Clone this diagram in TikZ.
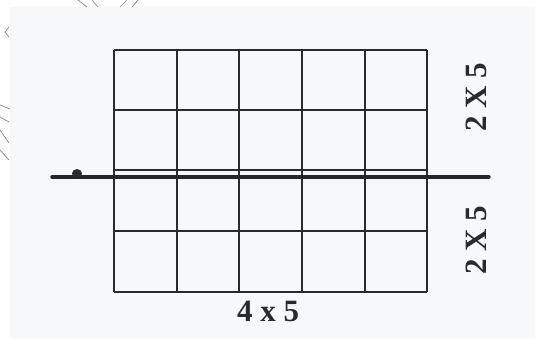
\documentclass[tikz,border=0pt]{standalone}
\usepackage{fontspec}
\setmainfont{Liberation Serif}
\definecolor{bg}{HTML}{F7F8FA}
\definecolor{ink}{HTML}{2A2A2A}
\definecolor{stray}{HTML}{8A8A8A}
\begin{document}
\begin{tikzpicture}[x=1pt,y=-1pt,
  gridline/.style={draw=ink,line width=1.1pt},
  cutline/.style={draw=ink!90!black,line width=3.4pt,line cap=round},
  lbl/.style={font=\bfseries\fontsize{31}{32}\selectfont,text=ink,inner sep=0pt},
  straystroke/.style={draw=stray,line width=0.7pt}]
\useasboundingbox (0,0) rectangle (535,338);
\fill[white] (0,0) rectangle (535,338);
\fill[bg] (10,7) rectangle (535,338);
% stray strokes outside the frame
\draw[straystroke] (78,0) -- (87,7) (92,0) -- (98,7) (120,7) -- (127,0) (132,7) -- (138,0);
\draw[straystroke] (9,27) -- (5,32) -- (9,37);
\draw[straystroke] (0,105) -- (10,109) (0,117) -- (9,122) (0,130) -- (9,143) (0,150) -- (9,160);
% grid
\foreach \xx in {114,177,239,302,365,427} \draw[gridline] (\xx,50) -- (\xx,292);
\foreach \yy in {50,110,170,231,292} \draw[gridline] (114,\yy) -- (427,\yy);
% cut line
\coordinate (cutL) at (52,177);
\coordinate (cutR) at (489,177);
\draw[cutline] (cutL) -- (cutR);
\fill[ink] (77,173.5) ellipse (5 and 4.5);
% labels
\node[lbl,rotate=90] (top) at (476,97) {2 X 5};
\node[lbl,rotate=90] (bot) at (476,240) {2 X 5};
\node[lbl] (base) at (268,311) {4 x 5};
\end{tikzpicture}
\end{document}
